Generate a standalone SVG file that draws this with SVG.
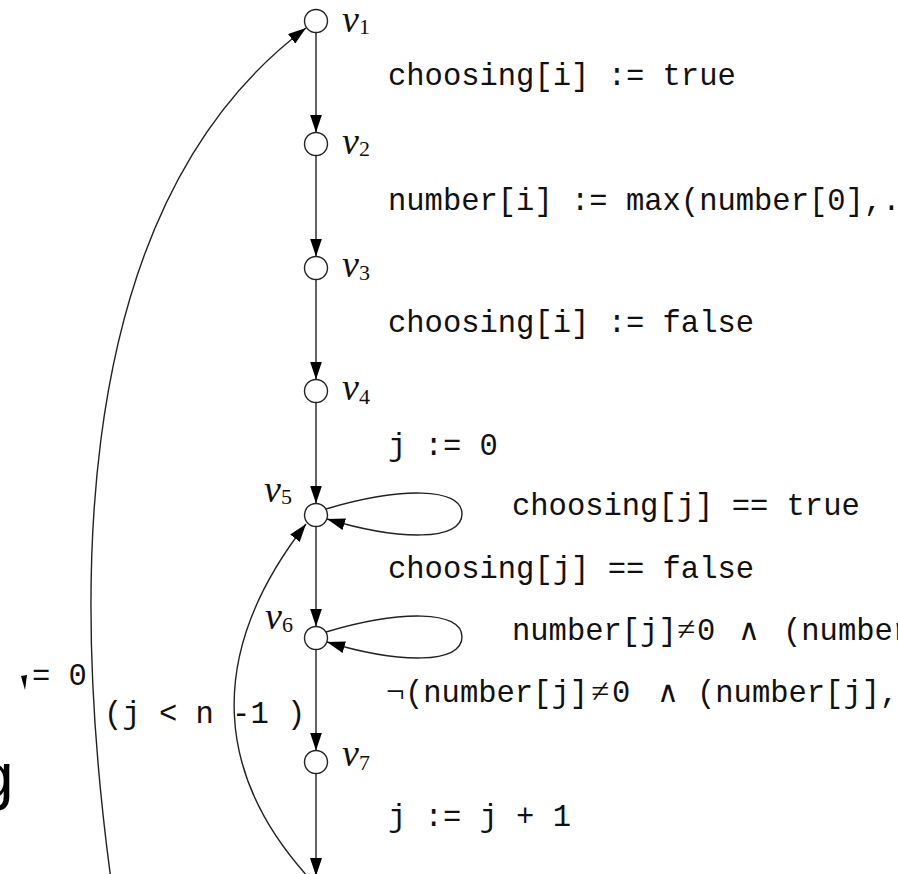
<svg xmlns="http://www.w3.org/2000/svg" width="898" height="874" viewBox="0 0 898 874">
<style>
.tt{font-family:"Liberation Mono","DejaVu Sans Mono",monospace;font-size:30.5px;fill:#111;white-space:pre}
.m{font-family:"Liberation Serif","DejaVu Serif",serif;font-size:33px;fill:#111}
.and{font-family:"DejaVu Sans","Liberation Serif",sans-serif;font-size:30px;fill:#111}
.lbl{font-family:"Liberation Serif","DejaVu Serif",serif;font-style:italic;font-size:38px;fill:#111}
.sub{font-style:normal;font-size:22px}
.node{fill:#fff;stroke:#222;stroke-width:1.4}
.e{fill:none;stroke:#222;stroke-width:1.4}
</style>
<defs>
<marker id="ah" viewBox="0 0 18 12" refX="18" refY="6" markerWidth="18" markerHeight="12" markerUnits="userSpaceOnUse" orient="auto">
<path d="M0,0 L18,6 L0,12 z" fill="#000"/>
</marker>
</defs>
<rect width="898" height="874" fill="#fff"/>
<g id="connectors">
<line class="e" x1="316" y1="32.5" x2="316" y2="132.5" marker-end="url(#ah)"/>
<line class="e" x1="316" y1="155.5" x2="316" y2="256.5" marker-end="url(#ah)"/>
<line class="e" x1="316" y1="279.5" x2="316" y2="379.5" marker-end="url(#ah)"/>
<line class="e" x1="316" y1="402.5" x2="316" y2="503.5" marker-end="url(#ah)"/>
<line class="e" x1="316" y1="526.5" x2="316" y2="626.5" marker-end="url(#ah)"/>
<line class="e" x1="316" y1="649.5" x2="316" y2="750.5" marker-end="url(#ah)"/>
<line class="e" x1="316" y1="773.5" x2="316" y2="876" marker-end="url(#ah)"/>
<path class="e" d="M326,509 C400,487 462,487 462,514 C462,541 400,541 327,519" marker-end="url(#ah)"/>
<path class="e" d="M326,632 C400,610 462,610 462,637 C462,664 400,664 327,642" marker-end="url(#ah)"/>
<path class="e" d="M111,880 C80,650 50,220 306,28" marker-end="url(#ah)"/>
<path class="e" d="M309,878 C220,780 200,660 306,524" marker-end="url(#ah)"/>
</g>
<g id="v1"><circle class="node" cx="316" cy="21" r="11.5"/><text class="lbl" x="342" y="32">v<tspan class="sub" dy="2">1</tspan></text></g>
<g id="v2"><circle class="node" cx="316" cy="144" r="11.5"/><text class="lbl" x="342" y="154">v<tspan class="sub" dy="2">2</tspan></text></g>
<g id="v3"><circle class="node" cx="316" cy="268" r="11.5"/><text class="lbl" x="342" y="277">v<tspan class="sub" dy="3">3</tspan></text></g>
<g id="v4"><circle class="node" cx="316" cy="391" r="11.5"/><text class="lbl" x="342" y="400">v<tspan class="sub" dy="4">4</tspan></text></g>
<g id="v5"><circle class="node" cx="316" cy="515" r="11.5"/><text class="lbl" x="264" y="502">v<tspan class="sub" dy="2">5</tspan></text></g>
<g id="v6"><circle class="node" cx="316" cy="638" r="11.5"/><text class="lbl" x="265" y="629">v<tspan class="sub" dy="3">6</tspan></text></g>
<g id="v7"><circle class="node" cx="316" cy="762" r="11.5"/><text class="lbl" x="342" y="766">v<tspan class="sub" dy="4">7</tspan></text></g>
<g id="labels">
<text class="tt" x="388" y="85">choosing[i] := true</text>
<text class="tt" x="388" y="210">number[i] := max(number[0],..</text>
<text class="tt" x="388" y="332">choosing[i] := false</text>
<text class="tt" x="388" y="455">j := 0</text>
<text class="tt" x="512" y="515">choosing[j] == true</text>
<text class="tt" x="388" y="578">choosing[j] == false</text>
<text y="640"><tspan class="tt" x="512">number[j]</tspan><tspan class="m" x="677">≠</tspan><tspan class="tt" x="697">0</tspan><tspan class="and" x="738">∧</tspan><tspan class="tt" x="783">(number</tspan></text>
<text y="702"><tspan class="m" x="386">¬</tspan><tspan class="tt" x="405">(number[j]</tspan><tspan class="m" x="591">≠</tspan><tspan class="tt" x="612">0</tspan><tspan class="and" x="657">∧</tspan><tspan class="tt" x="697">(number[j],</tspan></text>
<text class="tt" x="388" y="826">j := j + 1</text>
<text class="tt" x="32" y="685">= 0</text>
<text class="tt" x="104" y="723">(j &lt; n -1 )</text>
<polygon points="21,676 27,675 25,690" fill="#000"/>
<text x="-22" y="798" style="font-family:'Liberation Sans',Arial,sans-serif;font-size:64px;fill:#000">g</text>
</g>
</svg>
